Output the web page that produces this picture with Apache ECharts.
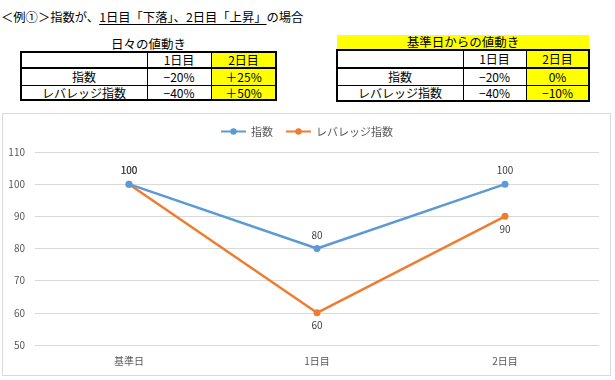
<!DOCTYPE html>
<html>
<head>
<meta charset="utf-8">
<script src="https://cdn.jsdelivr.net/npm/echarts@6/dist/echarts.min.js"></script>
<style>
  html, body { margin:0; padding:0; background:#fff; width:615px; height:380px; overflow:hidden;
    font-family:"Noto Sans CJK JP","Noto Sans",sans-serif; color:#000; }
  .abs { position:absolute; box-sizing:border-box; }
  .cell { position:absolute; box-sizing:border-box; display:flex; align-items:center; justify-content:center;
    font-size:12px; line-height:1; white-space:nowrap; }
  .line { position:absolute; background:#000; }
  #title { position:absolute; left:1px; top:8px; font-size:12.3px; white-space:nowrap; letter-spacing:0px; }
  #title u { text-underline-offset:2px; }
  #chart { position:absolute; left:2px; top:113px; width:609px; height:263px; border:1px solid #d9d9d9; box-sizing:border-box; }
</style>
</head>
<body>
<div id="title">＜例①＞指数が、<u>1日目「下落」、2日目「上昇」</u>の場合</div>
<div id="tables"></div>
<div id="chart"></div>
<script>
// ---- data ----
const categories = ['基準日', '1日目', '2日目'];
const seriesNames = ['指数', 'レバレッジ指数'];
const indexValues = [100, 80, 100];
const leveragedValues = [100, 60, 90];
const yMin = 50, yMax = 110, yStep = 10;

const dailyTitle = '日々の値動き';
const fromBaseTitle = '基準日からの値動き';
const tableHeaders = ['', '1日目', '2日目'];
const rowLabels = ['指数', 'レバレッジ指数'];
const dailyChanges = [['−20%', '＋25%'], ['−40%', '＋50%']];
const fromBaseChanges = [['−20%', '0%'], ['−40%', '−10%']];

// ---- tables (HTML) ----
const host = document.getElementById('tables');
function el(cls, x, y, w, h, text, bg) {
  const d = document.createElement('div');
  d.className = cls;
  d.style.left = x + 'px'; d.style.top = y + 'px';
  d.style.width = w + 'px'; d.style.height = h + 'px';
  if (bg) d.style.background = bg;
  if (text != null) d.textContent = text;
  host.appendChild(d);
  return d;
}
function drawTable(cols, rows, values, yellowBand) {
  // rows: [headerTop, headerBottom, row1Top, row2Top, bottom]
  const rowSpans = [[rows[0], rows[1]], [rows[2], rows[3]], [rows[3], rows[4]]];
  const data = [tableHeaders, [rowLabels[0]].concat(values[0]), [rowLabels[1]].concat(values[1])];
  for (let r = 0; r < 3; r++) {
    for (let c = 0; c < 3; c++) {
      const bg = c === 2 ? '#ffff00' : '#ffffff';
      el('cell', cols[c], rowSpans[r][0], cols[c + 1] - cols[c], rowSpans[r][1] - rowSpans[r][0], data[r][c], bg);
    }
  }
  const L = cols[0], R = cols[3], T = rows[0], B = rows[4];
  // horizontal lines
  el('line', L - 1, T - 1, R - L + 2, 2);
  el('line', L - 1, B - 1, R - L + 2, 2);
  el('line', L, rows[1], R - L, 2);
  el('line', L, rows[3], R - L, 1);
  // vertical lines
  el('line', L - 1, T - 1, 2, B - T + 2);
  el('line', R - 1, T - 1, 2, B - T + 2);
  el('line', cols[1], T, 1, B - T);
  el('line', cols[2], T, 1, B - T);
}
// table 1
const t1 = el('cell', 21, 37, 255, 15, dailyTitle);
t1.style.fontSize = '12.5px';
drawTable([21, 147, 211, 276], [52, 67, 69, 85, 100], dailyChanges);
// table 2
const t2 = el('cell', 337, 35, 252, 15, fromBaseTitle, '#ffff00');
t2.style.fontSize = '12.5px';
drawTable([337, 463, 526, 589], [50, 67, 69, 85, 101], fromBaseChanges);

// ---- chart ----
const chart = echarts.init(document.getElementById('chart'), null, { renderer: 'canvas' });
const font = '"Noto Sans CJK JP","Noto Sans",sans-serif';
const labelStyle = { show: true, fontSize: 10, color: '#404040', fontFamily: font };
chart.setOption({
  animation: false,
  textStyle: { fontFamily: font },
  color: ['#5b9bd5', '#ed7d31'],
  legend: {
    top: 7, left: 'center', itemWidth: 25, itemHeight: 8, itemGap: 12,
    textStyle: { fontSize: 11, color: '#595959', fontFamily: font },
    data: seriesNames
  },
  grid: { left: 32, right: 11, top: 38, bottom: 30 },
  xAxis: {
    type: 'category', data: categories, boundaryGap: true,
    axisLine: { show: false }, axisTick: { show: false },
    axisLabel: { color: '#595959', fontSize: 10, margin: 11, fontFamily: font }
  },
  yAxis: {
    type: 'value', min: yMin, max: yMax, interval: yStep,
    axisLine: { show: false }, axisTick: { show: false },
    axisLabel: { color: '#595959', fontSize: 10, margin: 10, fontFamily: font },
    splitLine: { lineStyle: { color: '#d9d9d9', width: 1 } }
  },
  series: [
    {
      name: seriesNames[0], type: 'line', data: indexValues,
      symbol: 'circle', symbolSize: 7, lineStyle: { width: 2.5 },
      label: Object.assign({ position: 'top', distance: 5 }, labelStyle),
      z: 3
    },
    {
      name: seriesNames[1], type: 'line',
      data: leveragedValues.map((v, i) => i === 0
        ? { value: v, label: { position: 'top', distance: 5 } }
        : { value: v }),
      symbol: 'circle', symbolSize: 7, lineStyle: { width: 2.5 },
      label: Object.assign({ position: 'bottom', distance: 4 }, labelStyle),
      z: 2
    }
  ]
});
</script>
</body>
</html>
